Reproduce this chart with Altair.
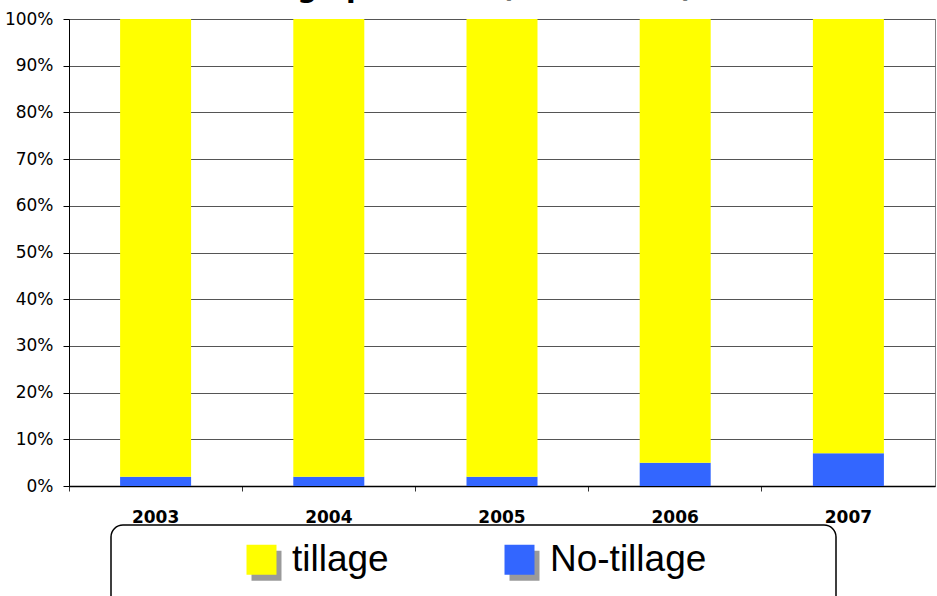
import altair as alt
import pandas as pd

# ---- data ----
years = ["2003", "2004", "2005", "2006", "2007"]
tillage = [98, 98, 98, 95, 93]
no_tillage = [2, 2, 2, 5, 7]
series = ["tillage", "No-tillage"]
colors = ["#FFFF00", "#3366FF"]
shadow_colors = ["#9a9a9a", "#9a9a9a"]
y_ticks = [0, 0.1, 0.2, 0.3, 0.4, 0.5, 0.6, 0.7, 0.8, 0.9, 1.0]
title_text = "Tillage practices (2003-2007)"

rows = []
for i, yr in enumerate(years):
    rows.append({"year": yr, "practice": "No-tillage", "value": no_tillage[i], "order": 1})
    rows.append({"year": yr, "practice": "tillage", "value": tillage[i], "order": 2})
df = pd.DataFrame(rows)

NBSP = "\u00a0"
ZWSP = "\u200b"
pad_right = NBSP * 11 + ZWSP
label_expr = "datum.label == 'No-tillage' ? datum.label + '" + pad_right + "' : datum.label"

LEG_X, LEG_Y = 42, 506


def legend_params(dx, dy, shadow):
    if shadow:
        extra = dict(labelOpacity=0, strokeColor="rgba(0,0,0,0)", zindex=1)
    else:
        extra = dict(strokeColor="black", zindex=2)
    return alt.Legend(
        orient="none", legendX=LEG_X + dx, legendY=LEG_Y + dy, direction="horizontal",
        title=NBSP, titleOrient="left", titleFontSize=100, titlePadding=116,
        titleFont="Liberation Sans",
        symbolType="square", symbolSize=900, symbolStrokeWidth=0, symbolOpacity=1,
        labelFont="Liberation Sans", labelFontSize=37, labelColor="black",
        labelOffset=12, labelLimit=1000, columnPadding=112, padding=16,
        cornerRadius=12, labelExpr=label_expr, **extra,
    )


x_enc = alt.X(
    "year:O",
    sort=years,
    scale=alt.Scale(paddingInner=0, paddingOuter=0),
    axis=alt.Axis(
        title=None, labelAngle=0, labelFont="DejaVu Sans", labelFontWeight="bold",
        labelFontSize=17, labelColor="black", labelPadding=18, bandPosition=0,
        tickSize=5, tickColor="#333333", domainColor="black", domainWidth=1.5, grid=False,
    ),
)
y_enc = alt.Y(
    "value:Q",
    stack="normalize",
    scale=alt.Scale(domain=[0, 1]),
    axis=alt.Axis(
        title=None, format=".0%", values=y_ticks, labelFont="DejaVu Sans",
        labelFontSize=17, labelColor="black", labelPadding=10, tickSize=6,
        tickColor="black", domainColor="black", gridColor="#555555", gridWidth=1,
    ),
)

base = alt.Chart(df)

shadow_layer = base.mark_bar(size=71).encode(
    x=x_enc,
    y=y_enc,
    color=alt.Color(
        "practice:N",
        scale=alt.Scale(domain=series, range=shadow_colors),
        legend=legend_params(5, 6, True),
    ),
).transform_filter("false")

bars = base.mark_bar(size=71).encode(
    x=x_enc,
    y=y_enc,
    color=alt.Color(
        "practice:N",
        scale=alt.Scale(domain=series, range=colors),
        legend=legend_params(0, 0, False),
    ),
    order=alt.Order("order:Q"),
)

chart = alt.layer(shadow_layer, bars).resolve_scale(
    color="independent"
).resolve_legend(
    color="independent"
).properties(
    width=866,
    height=467,
    background="white",
    autosize=alt.AutoSizeParams(type="none"),
    padding={"left": 69, "top": 19, "right": 2, "bottom": 110},
    title=alt.TitleParams(
        title_text, font="DejaVu Sans", fontSize=28, fontWeight="bold", color="black",
        anchor="middle", baseline="alphabetic", offset=-15, dx=-40,
    ),
).configure_view(
    stroke="#808080", strokeWidth=1
).configure_legend(
    strokeWidth=1.5
)

chart.save("out.html", embed_options={"renderer": "svg", "actions": False})
